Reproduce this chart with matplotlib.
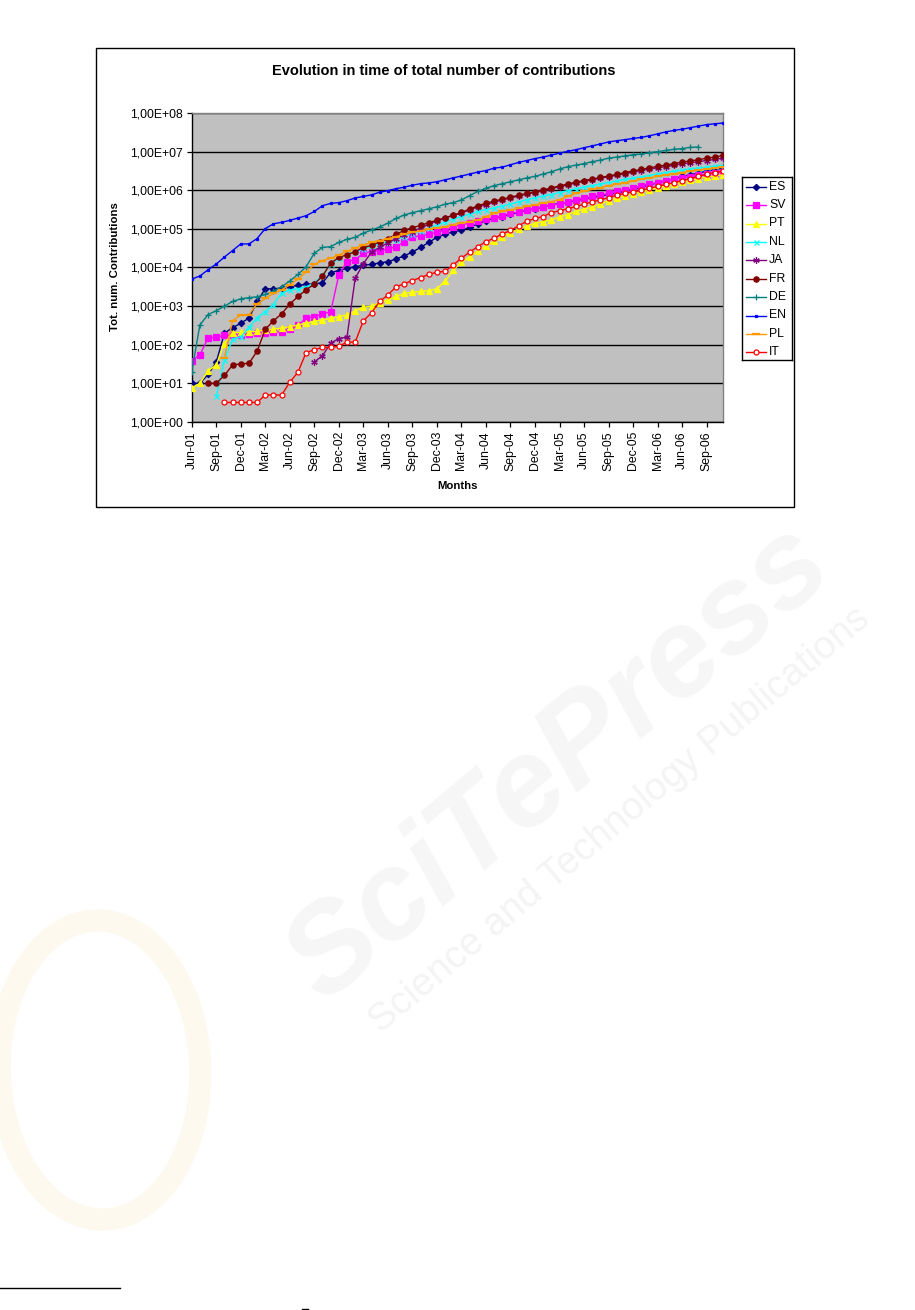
import numpy as np
import pandas as pd
import matplotlib
matplotlib.use('Agg')
import matplotlib.pyplot as plt
from matplotlib.patches import Rectangle, Ellipse
from matplotlib.lines import Line2D

plt.rcParams['font.family'] = ['Liberation Sans', 'DejaVu Sans']

nan = np.nan

# monthly categories, Jun-01 .. Nov-06
months = pd.date_range('2001-06-01', periods=66, freq='MS').strftime('%b-%y').tolist()

ES = [10, 10, 17, 35, 200, 275, 360, 490, 1320, 2800,
      2800, 2950, 3200, 3450, 3650, 3800, 4000, 7400, 8300, 9500,
      10500, 11500, 12000, 13200, 14100, 16600, 20000, 25100, 33100, 44700,
      60300, 72400, 85100, 91200, 110000, 135000, 158000, 191000, 209000, 240000,
      269000, 302000, 331000, 372000, 417000, 457000, 479000, 537000, 589000, 646000,
      708000, 776000, 851000, 933000, 1.05e6, 1.20e6, 1.38e6, 1.55e6, 1.74e6, 2.00e6,
      2.29e6, 2.51e6, 2.82e6, 3.09e6, 3.39e6, 3.72e6]

SV = [39, 55, 148, 158, 174, 178, 182, 190, 200, 204,
      209, 219, 251, 316, 490, 537, 631, 708, 6460, 14100,
      15800, 23400, 25700, 27500, 30200, 34700, 46800, 60300, 66100, 72400,
      81300, 93300, 115000, 126000, 141000, 158000, 178000, 195000, 219000, 251000,
      275000, 302000, 339000, 372000, 407000, 447000, 501000, 562000, 631000, 692000,
      759000, 832000, 933000, 1.02e6, 1.12e6, 1.32e6, 1.45e6, 1.58e6, 1.78e6, 1.95e6,
      2.09e6, 2.24e6, 2.45e6, 2.63e6, 2.82e6, 3.02e6]

PT = [7.6, 10, 21, 30, 107, 204, 209, 219, 224, 240,
      251, 269, 295, 324, 363, 407, 437, 479, 537, 589,
      759, 933, 1000, 1230, 1450, 1780, 2140, 2290, 2400, 2510,
      2820, 4470, 8510, 13500, 19100, 26900, 36300, 47900, 61700, 79400,
      100000, 120000, 138000, 155000, 170000, 204000, 234000, 282000, 324000, 372000,
      437000, 537000, 631000, 724000, 813000, 912000, 1.02e6, 1.15e6, 1.29e6, 1.45e6,
      1.62e6, 1.82e6, 2.00e6, 2.19e6, 2.34e6, 2.51e6]

NL = [nan, nan, nan, 4.6, 40, 141, 158, 282, 501, 724,
      1100, 2190, 2630, 2820, 3160, 3980, 6310, 12000, 17400, 21900,
      25100, 30200, 35500, 40700, 46800, 52500, 63100, 75900, 89100, 105000,
      126000, 151000, 178000, 209000, 240000, 282000, 316000, 347000, 389000, 437000,
      501000, 562000, 631000, 708000, 776000, 871000, 977000, 1.10e6, 1.20e6, 1.32e6,
      1.45e6, 1.58e6, 1.74e6, 1.91e6, 2.04e6, 2.19e6, 2.40e6, 2.63e6, 2.88e6, 3.09e6,
      3.31e6, 3.55e6, 3.72e6, 3.98e6, 4.17e6, 4.37e6]

JA = [nan] * 15 + [
      36, 52, 110, 145, 158,
      5250, 12600, 25100, 33100, 43700, 56200, 69200, 83200, 105000, 132000,
      162000, 191000, 224000, 257000, 309000, 372000, 427000, 490000, 562000, 631000,
      708000, 794000, 871000, 977000, 1.10e6, 1.23e6, 1.38e6, 1.55e6, 1.70e6, 1.86e6,
      2.04e6, 2.24e6, 2.45e6, 2.69e6, 2.95e6, 3.24e6, 3.55e6, 3.80e6, 4.07e6, 4.47e6,
      4.79e6, 5.13e6, 5.50e6, 5.89e6, 6.31e6, 6.76e6]

FR = [nan, nan, 10, 10, 16, 30, 32, 33, 68, 251,
      417, 631, 1120, 1780, 2630, 3720, 6030, 12900, 18200, 21400,
      25700, 33100, 37200, 45700, 55000, 72400, 91200, 107000, 123000, 145000,
      166000, 195000, 224000, 269000, 324000, 398000, 457000, 525000, 589000, 661000,
      741000, 832000, 912000, 1.02e6, 1.15e6, 1.29e6, 1.45e6, 1.62e6, 1.78e6, 1.95e6,
      2.14e6, 2.34e6, 2.57e6, 2.88e6, 3.16e6, 3.47e6, 3.80e6, 4.17e6, 4.47e6, 4.90e6,
      5.37e6, 5.75e6, 6.17e6, 6.76e6, 7.24e6, 7.94e6]

DE = [20, 324, 603, 759, 1000, 1320, 1550, 1660, 1740, 2000,
      2450, 3160, 4470, 6610, 10500, 23400, 33100, 34700, 44700, 53700,
      60300, 77600, 93300, 112000, 141000, 186000, 229000, 263000, 295000, 331000,
      372000, 437000, 479000, 562000, 724000, 933000, 1.12e6, 1.32e6, 1.48e6, 1.66e6,
      1.86e6, 2.09e6, 2.29e6, 2.63e6, 3.02e6, 3.55e6, 4.07e6, 4.47e6, 4.90e6, 5.50e6,
      6.03e6, 6.76e6, 7.24e6, 7.76e6, 8.32e6, 8.71e6, 9.33e6, 1.00e7, 1.07e7, 1.15e7,
      1.20e7, 1.29e7, 1.32e7, nan, nan, nan]

EN = [5010, 6030, 8710, 12300, 18600, 27500, 40700, 40700, 56200, 102000,
      135000, 148000, 166000, 191000, 219000, 282000, 398000, 457000, 479000, 537000,
      631000, 692000, 759000, 891000, 977000, 1.10e6, 1.20e6, 1.35e6, 1.48e6, 1.55e6,
      1.66e6, 1.86e6, 2.09e6, 2.34e6, 2.63e6, 2.95e6, 3.24e6, 3.72e6, 3.98e6, 4.57e6,
      5.25e6, 5.89e6, 6.61e6, 7.24e6, 8.13e6, 9.12e6, 1.02e7, 1.12e7, 1.26e7, 1.41e7,
      1.58e7, 1.78e7, 1.91e7, 2.04e7, 2.19e7, 2.34e7, 2.57e7, 2.88e7, 3.24e7, 3.55e7,
      3.80e7, 4.17e7, 4.57e7, 5.01e7, 5.25e7, 5.50e7]

PL = [nan, nan, nan, nan, 45, 417, 589, 603, 1150, 1580,
      2140, 2630, 3550, 5010, 7590, 12000, 15100, 17400, 20900, 26300,
      31600, 38000, 44700, 49000, 56200, 63100, 72400, 81300, 89100, 100000,
      107000, 115000, 129000, 141000, 155000, 170000, 209000, 251000, 282000, 309000,
      339000, 380000, 417000, 468000, 501000, 575000, 692000, 832000, 933000, 1.05e6,
      1.17e6, 1.32e6, 1.45e6, 1.58e6, 1.74e6, 1.91e6, 2.09e6, 2.29e6, 2.51e6, 2.69e6,
      2.88e6, 3.09e6, 3.31e6, 3.55e6, 3.80e6, 3.98e6]

IT = [nan, nan, nan, nan, 3.2, 3.2, 3.2, 3.2, 3.2, 5,
      5, 5, 10.7, 19.5, 63, 74, 85, 85, 91, 117,
      117, 417, 676, 1320, 1950, 3160, 3800, 4570, 5500, 6610,
      7590, 7940, 11700, 17400, 25100, 34700, 46800, 57500, 74100, 91200,
      120000, 158000, 186000, 209000, 263000, 295000, 331000, 380000, 437000, 501000,
      562000, 646000, 741000, 832000, 912000, 1.00e6, 1.12e6, 1.26e6, 1.41e6, 1.58e6,
      1.78e6, 2.00e6, 2.29e6, 2.57e6, 2.88e6, 3.16e6]

series_names = ['ES', 'SV', 'PT', 'NL', 'JA', 'FR', 'DE', 'EN', 'PL', 'IT']
series_data = [ES, SV, PT, NL, JA, FR, DE, EN, PL, IT]

# Excel-like styles: (color, marker, markersize, markerfacecolor)
styles = {
    'ES': dict(color='#000080', marker='D', ms=3.2, mfc='#000080'),
    'SV': dict(color='#FF00FF', marker='s', ms=4.2, mfc='#FF00FF'),
    'PT': dict(color='#FFFF00', marker='^', ms=4.6, mfc='#FFFF00'),
    'NL': dict(color='#00FFFF', marker='x', ms=3.6, mfc='#00FFFF'),
    'JA': dict(color='#800080', marker=(6, 2, 0), ms=4.6, mfc='#800080'),
    'FR': dict(color='#800000', marker='o', ms=3.8, mfc='#800000'),
    'DE': dict(color='#008080', marker='+', ms=4.6, mfc='#008080'),
    'EN': dict(color='#0000FF', marker='s', ms=1.8, mfc='#0000FF'),
    'PL': dict(color='#FF9900', marker='_', ms=6, mfc='#FF9900'),
    'IT': dict(color='#FF0000', marker='o', ms=3.6, mfc='white'),
}

W, H = 915, 1310
fig = plt.figure(figsize=(W / 100, H / 100), dpi=100)
fig.patch.set_facecolor('white')


def fx(px):
    return px / W


def fy(py):
    return 1 - py / H


# very faint publisher watermark behind everything
fig.text(fx(560), fy(765), 'SciTePress', rotation=40, fontsize=90, fontstyle='italic',
         fontweight='bold', color='#f6f6f6', ha='center', va='center', zorder=0)
fig.text(fx(620), fy(820), 'Science and Technology Publications', rotation=40,
         fontsize=28, color='#f4f4f4', ha='center', va='center', zorder=0)
fig.patches.append(Ellipse((fx(100), fy(1070)), 200 / W, 300 / H, angle=15,
                           transform=fig.transFigure, fill=False,
                           edgecolor='#fdf9ee', lw=16, zorder=0))

# chart area border
fig.patches.append(Rectangle((fx(96), fy(507)), (794 - 96) / W, (507 - 48) / H,
                             transform=fig.transFigure, fill=False,
                             edgecolor='#000000', lw=1.0, zorder=1))

ax_l, ax_r, ax_t, ax_b = 191.7, 723, 113, 422
ax = fig.add_axes([fx(ax_l), fy(ax_b), (ax_r - ax_l) / W, (ax_b - ax_t) / H])
ax.set_facecolor('#C0C0C0')

x = np.arange(len(months))
for name, vals in zip(series_names, series_data):
    st = styles[name]
    mew = 1.6 if name == 'PL' else 0.9
    ax.plot(x, vals, color=st['color'], lw=1.0, marker=st['marker'], ms=st['ms'],
            mfc=st['mfc'], mec=st['color'], mew=mew, zorder=3)

ax.set_yscale('log')
ax.set_ylim(1, 1e8)
ax.set_xlim(0, len(months) - 1)
yt = [10.0 ** k for k in range(0, 9)]
ax.set_yticks(yt)
ax.set_yticklabels(['1,00E+%02d' % k for k in range(0, 9)])
ax.yaxis.set_minor_locator(matplotlib.ticker.NullLocator())
ax.grid(axis='y', which='major', color='#000000', lw=1.0, zorder=1)
ax.set_axisbelow(True)

xt = x[::3]
ax.set_xticks(xt)
ax.set_xticklabels([months[i] for i in xt], rotation=90, ha='center', va='top')

ax.tick_params(axis='both', which='major', direction='out', length=3.5, width=0.9,
               labelsize=8.8, colors='black')
ax.tick_params(axis='x', pad=3)
ax.tick_params(axis='y', pad=3)

for side in ('top', 'right'):
    ax.spines[side].set_color('#808080')
    ax.spines[side].set_linewidth(1.0)
for side in ('left', 'bottom'):
    ax.spines[side].set_color('#000000')
    ax.spines[side].set_linewidth(1.0)

fig.text(fx(443.5), fy(71), 'Evolution in time of total number of contributions',
         ha='center', va='center', fontsize=10.5, fontweight='bold')
fig.text(fx(115), fy(267), 'Tot. num. Contributions', rotation=90,
         ha='center', va='center', fontsize=8.2, fontweight='bold')
fig.text(fx(457), fy(486), 'Months', ha='center', va='center',
         fontsize=8.2, fontweight='bold')

# legend box, laid out in pixel units
lg_l, lg_r, lg_t, lg_b = 742, 792, 177, 360
lax = fig.add_axes([fx(lg_l), fy(lg_b), (lg_r - lg_l) / W, (lg_b - lg_t) / H])
lax.set_xlim(lg_l, lg_r)
lax.set_ylim(lg_b, lg_t)
lax.set_xticks([])
lax.set_yticks([])
for sp in lax.spines.values():
    sp.set_color('black')
    sp.set_linewidth(1.0)
for k, name in enumerate(series_names):
    st = styles[name]
    yy = 186.7 + 18.4 * k
    mew = 1.6 if name == 'PL' else 0.9
    lax.add_line(Line2D([746, 766], [yy, yy], color=st['color'], lw=1.0))
    lax.add_line(Line2D([756], [yy], color=st['color'], marker=st['marker'],
                        ms=st['ms'], mfc=st['mfc'], mec=st['color'], mew=mew))
    lax.text(769, yy, name, ha='left', va='center', fontsize=8.8)

# footnote rule at the page bottom
fig.lines.append(Line2D([fx(0), fx(120)], [fy(1288), fy(1288)],
                        transform=fig.transFigure, color='black', lw=1.0))
fig.lines.append(Line2D([fx(302), fx(308)], [fy(1309), fy(1309)],
                        transform=fig.transFigure, color='black', lw=1.0))

fig.savefig('out.png', dpi=100, facecolor='white')
